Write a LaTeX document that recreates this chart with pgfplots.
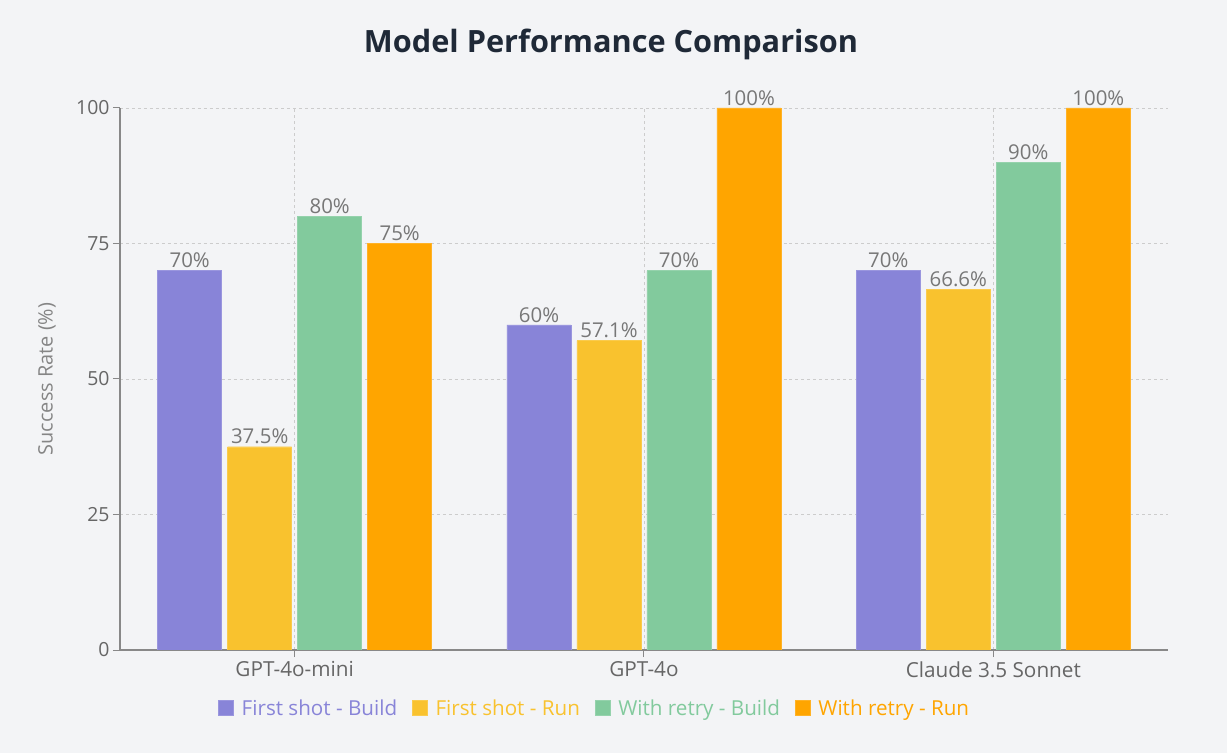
\documentclass[border=0pt]{standalone}
\usepackage{pgfplots}
\pgfplotsset{compat=1.18}
\usepackage{fontspec}
\setmainfont{Open Sans}
\definecolor{bgcol}{HTML}{F3F4F6}
\definecolor{cpurple}{HTML}{8884D8}
\definecolor{cyellow}{HTML}{F9C22E}
\definecolor{cgreen}{HTML}{82CA9D}
\definecolor{corange}{HTML}{FFA500}
\definecolor{titlecol}{HTML}{1F2937}
\definecolor{tickcol}{HTML}{666666}
\definecolor{axcol}{HTML}{888888}
\definecolor{gridcol}{HTML}{CCCCCC}
\definecolor{lblcol}{HTML}{777777}
\begin{document}
\begin{tikzpicture}
\fill[bgcol] (0,0) rectangle (1227bp,753bp);
\begin{axis}[
  at={(120bp,103bp)}, anchor=south west,
  scale only axis, width=1048bp, height=542bp,
  ybar, bar width=64bp,
  xmin=-0.5, xmax=2.5, ymin=0, ymax=100,
  axis lines*=left,
  axis line style={axcol, line width=1.2pt, -},
  xtick={0,1,2},
  xticklabels={GPT-4o-mini, GPT-4o, Claude 3.5 Sonnet},
  ytick={0,25,50,75,100},
  tick align=outside, major tick length=7bp,
  tick style={axcol, line width=1pt},
  /pgf/number format/assume math mode=true,
  ticklabel style={font=\fontsize{19.5}{22}\selectfont, text=tickcol},
  xticklabel style={yshift=-1bp, font=\fontsize{20.8}{24}\selectfont},
  grid=major,
  major grid style={gridcol, dashed, line width=0.8pt},
  ylabel={Success Rate (\%)},
  ylabel style={at={(axis description cs:-0.0697,0.5)}, anchor=center, font=\fontsize{20}{24}\selectfont, text=lblcol!90},
  nodes near coords,
  point meta=explicit symbolic,
  every node near coord/.append style={font=\fontsize{20.5}{24}\selectfont, text=lblcol, yshift=-1bp},
  legend columns=4,
  legend style={at={(0.453,-0.107)}, anchor=center, draw=none, fill=none,
    font=\fontsize{20.7}{24}\selectfont,
    /tikz/every odd column/.append style={column sep=6bp},
    /tikz/every even column/.append style={column sep=13bp}},
  legend cell align=left,
  legend image code/.code={\fill[#1] (0bp,-7.5bp) rectangle (15bp,7.5bp);},
]
\addplot[fill=cpurple, draw=cpurple!85!white, bar shift=-105bp] coordinates {(0,70) [70\%] (1,60) [60\%] (2,70) [70\%]};
\addlegendentry{\textcolor{cpurple}{First shot - Build}}
\addplot[fill=cyellow, draw=cyellow!85!white, bar shift=-35bp] coordinates {(0,37.5) [37.5\%] (1,57.1) [57.1\%] (2,66.6) [66.6\%]};
\addlegendentry{\textcolor{cyellow}{First shot - Run}}
\addplot[fill=cgreen, draw=cgreen!85!white, bar shift=35bp] coordinates {(0,80) [80\%] (1,70) [70\%] (2,90) [90\%]};
\addlegendentry{\textcolor{cgreen}{With retry - Build}}
\addplot[fill=corange, draw=corange!85!white, bar shift=105bp] coordinates {(0,75) [75\%] (1,100) [100\%] (2,100) [100\%]};
\addlegendentry{\textcolor{corange}{With retry - Run}}
\draw[gridcol, dashed, line width=0.8pt] (axis cs:2.5,0) -- (axis cs:2.5,100);
\end{axis}
\node[font=\bfseries\fontsize{30.8}{36}\selectfont, text=titlecol] at (611bp,709bp) {Model Performance Comparison};
\end{tikzpicture}
\end{document}
